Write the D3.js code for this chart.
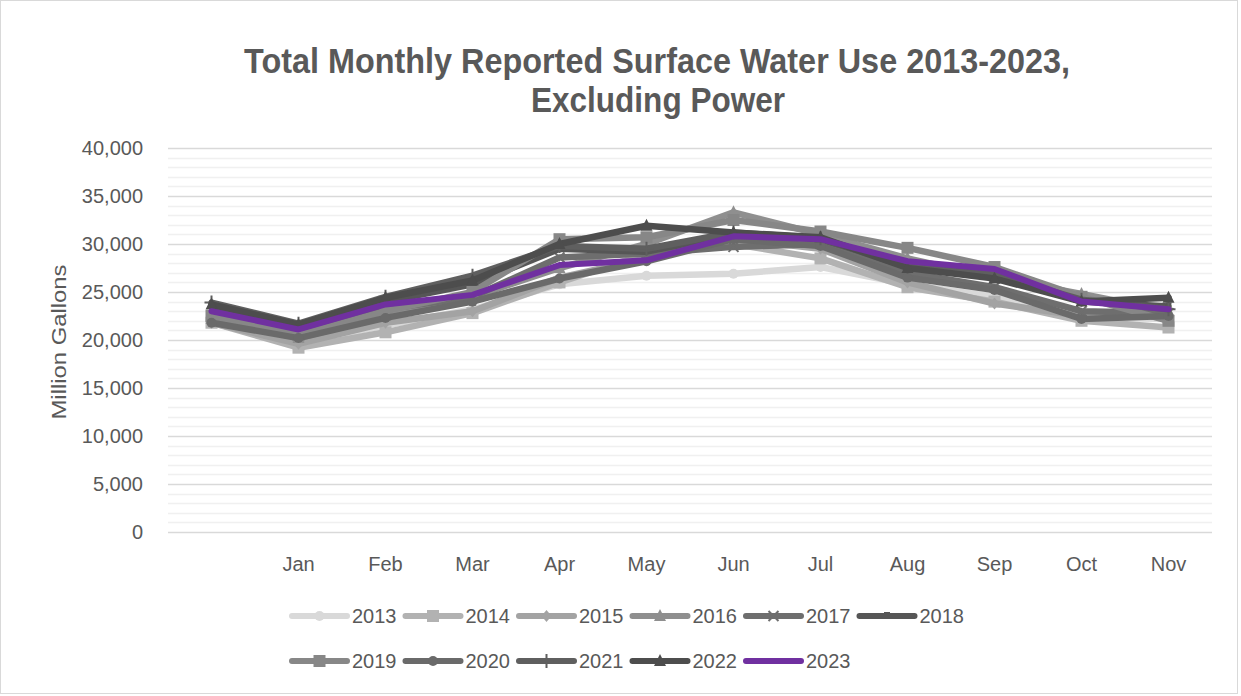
<!DOCTYPE html>
<html>
<head>
<meta charset="utf-8">
<script src="https://cdn.jsdelivr.net/npm/d3@7"></script>
<style>
  body { margin: 0; background: #fff; }
  text { font-family: "Liberation Sans", Arial, sans-serif; fill: #595959; }
</style>
</head>
<body>
<script>
//chart data
var months = ["", "Jan", "Feb", "Mar", "Apr", "May", "Jun", "Jul", "Aug", "Sep", "Oct", "Nov"];
var years = ["2013", "2014", "2015", "2016", "2017", "2018", "2019", "2020", "2021", "2022", "2023"];
var yTicks = [0, 5000, 10000, 15000, 20000, 25000, 30000, 35000, 40000];

var v2013 = [22000, 19700, 21500, 23200, 25800, 26700, 26900, 27600, 25800, 24500, 22400, 22200];
var v2014 = [21800, 19200, 20800, 22800, 26000, 29000, 30000, 28500, 25500, 24000, 22000, 21300];
var v2015 = [21800, 19600, 21800, 23000, 26500, 28500, 30500, 29500, 26000, 23800, 22500, 22500];
var v2016 = [22200, 20200, 22500, 24500, 27500, 30000, 33300, 31000, 28500, 26500, 24800, 23000];
var v2017 = [22500, 20700, 23200, 24500, 28600, 29000, 29700, 30000, 27000, 25500, 23000, 22800];
var v2018 = [23500, 21500, 24000, 25800, 29500, 29200, 31000, 30500, 27800, 27000, 24000, 23500];
var v2019 = [22500, 20500, 23000, 25000, 30500, 30700, 32500, 31300, 29600, 27600, 24500, 22000];
var v2020 = [21800, 20200, 22300, 24000, 26400, 28200, 30500, 29800, 26500, 25200, 22200, 22500];
var v2021 = [23900, 21700, 24500, 26700, 29800, 29500, 31200, 30600, 27600, 26800, 24200, 23200];
var v2022 = [23700, 21600, 24400, 26200, 30000, 31900, 31200, 30700, 27500, 26400, 24000, 24400];
var v2023 = [23000, 21100, 23700, 24700, 27800, 28300, 30800, 30500, 28200, 27400, 24000, 23200];

var values = [v2013, v2014, v2015, v2016, v2017, v2018, v2019, v2020, v2021, v2022, v2023];
var colors = ["#d9d9d9", "#b2b2b2", "#a3a3a3", "#8f8f8f", "#6e6e6e", "#565656",
              "#878787", "#6a6a6a", "#5f5f5f", "#4d4d4d", "#7030a0"];
var markers = ["circle", "square", "diamond", "triangle", "x", "dash",
               "square", "circle", "plus", "triangle", "none"];

var width = 1241, height = 696;
var margin = {top: 148, left: 168, right: 29, bottom: 164};

var svg = d3.select("body").append("svg")
    .attr("width", width)
    .attr("height", height);

//outer chart border
svg.append("rect")
    .attr("x", 0.5).attr("y", 0.5)
    .attr("width", 1237).attr("height", 693)
    .attr("fill", "#fff")
    .attr("stroke", "#d9d9d9");

// first category is blank, so key the band scale by index
var x = d3.scaleBand()
    .domain(months.map(function(d, i){ return i; }))
    .range([margin.left, width - margin.right]);

var y = d3.scaleLinear()
    .domain([0, 40000])
    .range([height - margin.bottom, margin.top]);

//minor and major gridlines
svg.append("g")
    .selectAll("line")
    .data(d3.range(0, 40001, 1000))
    .enter().append("line")
    .attr("x1", margin.left).attr("x2", width - margin.right)
    .attr("y1", function(d){ return Math.round(y(d)) + 0.5; })
    .attr("y2", function(d){ return Math.round(y(d)) + 0.5; })
    .attr("stroke", function(d){ return d % 5000 === 0 ? "#d9d9d9" : "#f0f0f0"; })
    .attr("stroke-width", 1.5);

//y axis labels
var yAxis = svg.append("g")
    .attr("transform", "translate(" + (margin.left - 22) + ",0)")
    .call(d3.axisLeft(y).tickValues(yTicks).tickSize(0).tickFormat(d3.format(",")));
yAxis.select(".domain").remove();
yAxis.selectAll("text")
    .attr("font-size", 20)
    .attr("fill", "#595959")
    .style("font-family", "'Liberation Sans', Arial, sans-serif");

//x axis labels
var xAxis = svg.append("g")
    .attr("transform", "translate(0," + (height - margin.bottom + 22) + ")")
    .call(d3.axisBottom(x).tickSize(0).tickFormat(function(i){ return months[i]; }));
xAxis.select(".domain").remove();
xAxis.selectAll("text")
    .attr("font-size", 20)
    .attr("fill", "#595959")
    .style("font-family", "'Liberation Sans', Arial, sans-serif");

//axis title
svg.append("text")
    .attr("transform", "translate(66,342) rotate(-90)")
    .attr("text-anchor", "middle")
    .attr("font-size", 21)
    .attr("textLength", 155)
    .attr("lengthAdjust", "spacingAndGlyphs")
    .text("Million Gallons");

//chart title, squeezed to mimic the narrow font of the original
var title = svg.append("text")
    .attr("text-anchor", "middle")
    .attr("font-size", 35)
    .attr("font-weight", "bold");
title.append("tspan").attr("x", 657).attr("y", 73)
    .attr("textLength", 826)
    .attr("lengthAdjust", "spacingAndGlyphs")
    .text("Total Monthly Reported Surface Water Use 2013-2023,");
title.append("tspan").attr("x", 658).attr("y", 112)
    .attr("textLength", 254)
    .attr("lengthAdjust", "spacingAndGlyphs")
    .text("Excluding Power");

function drawMarker(g, type, cx, cy, color){
    var s = 5;
    if (type === "circle") {
        g.append("circle").attr("cx", cx).attr("cy", cy).attr("r", s).attr("fill", color);
    } else if (type === "square") {
        g.append("rect").attr("x", cx - s - 1).attr("y", cy - s - 1)
            .attr("width", 2 * s + 2).attr("height", 2 * s + 2).attr("fill", color);
    } else if (type === "diamond") {
        g.append("path").attr("d", "M" + cx + "," + (cy - s - 1) + "L" + (cx + s) + "," + cy +
            "L" + cx + "," + (cy + s + 1) + "L" + (cx - s) + "," + cy + "Z").attr("fill", color);
    } else if (type === "triangle") {
        g.append("path").attr("d", "M" + cx + "," + (cy - s - 2) + "L" + (cx + s + 1) + "," + (cy + s) +
            "L" + (cx - s - 1) + "," + (cy + s) + "Z").attr("fill", color);
    } else if (type === "x") {
        g.append("path").attr("d", "M" + (cx - s) + "," + (cy - s) + "L" + (cx + s) + "," + (cy + s) +
            "M" + (cx + s) + "," + (cy - s) + "L" + (cx - s) + "," + (cy + s))
            .attr("stroke", color).attr("stroke-width", 2);
    } else if (type === "dash") {
        g.append("rect").attr("x", cx - 3).attr("y", cy - 4).attr("width", 6).attr("height", 2)
            .attr("fill", color);
    } else if (type === "plus") {
        g.append("path").attr("d", "M" + cx + "," + (cy - s - 2) + "L" + cx + "," + (cy + s + 2) +
            "M" + (cx - s - 2) + "," + cy + "L" + (cx + s + 2) + "," + cy)
            .attr("stroke", color).attr("stroke-width", 2);
    }
}

var line = d3.line()
    .x(function(d, i){ return x(i) + x.bandwidth() / 2; })
    .y(function(d){ return y(d); });

//series lines with markers, 2013 at the bottom
values.forEach(function(vals, k){
    var g = svg.append("g").attr("class", "series y" + years[k]);
    g.append("path")
        .datum(vals)
        .attr("d", line)
        .attr("fill", "none")
        .attr("stroke", colors[k])
        .attr("stroke-width", k === 10 ? 6 : 6.5)
        .attr("stroke-linejoin", "round")
        .attr("stroke-linecap", "round");
    vals.forEach(function(v, i){
        drawMarker(g, markers[k], x(i) + x.bandwidth() / 2, y(v), colors[k]);
    });
});

//legend, two rows of six and five
var legend = svg.append("g");
years.forEach(function(yr, k){
    var row = k < 6 ? 0 : 1,
        col = k < 6 ? k : k - 6;
    var lx = 292 + col * 113.5,
        ly = 616 + row * 45;
    var g = legend.append("g");
    g.append("line")
        .attr("x1", lx).attr("x2", lx + 55)
        .attr("y1", ly).attr("y2", ly)
        .attr("stroke", colors[k])
        .attr("stroke-width", 6)
        .attr("stroke-linecap", "round");
    drawMarker(g, markers[k], lx + 27.5, ly, colors[k]);
    g.append("text")
        .attr("x", lx + 60)
        .attr("y", ly + 7)
        .attr("font-size", 20)
        .text(yr);
});
</script>
</body>
</html>
